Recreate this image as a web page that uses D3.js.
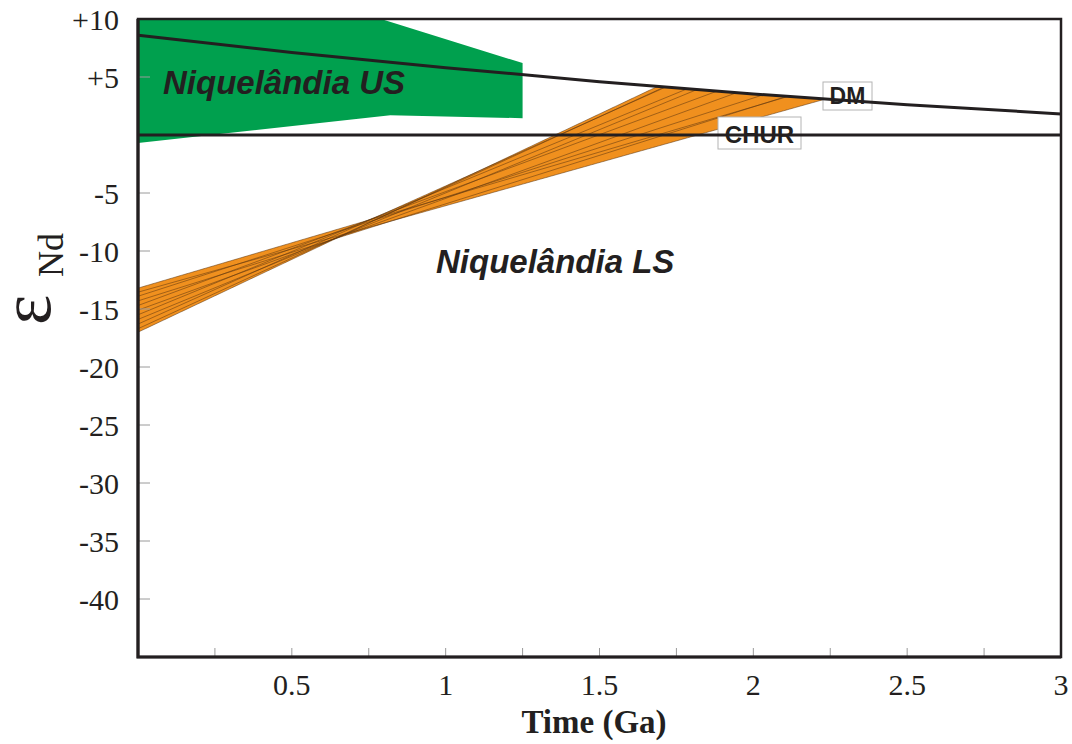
<!DOCTYPE html>
<html>
<head>
<meta charset="utf-8">
<script src="https://cdn.jsdelivr.net/npm/d3@7"></script>
<style>
  html, body { margin: 0; padding: 0; background: #fff; }
  svg { display: block; }
</style>
</head>
<body>
<svg id="chart" width="1072" height="744"></svg>
<script>
// Depleted-mantle evolution curve (epsilon Nd vs time)
const dmT   = [0, 0.5, 1, 1.5, 2, 2.5, 3];
const dmEps = [8.6, 7.12, 5.8, 4.6, 3.54, 2.6, 1.82];

// Chondritic uniform reservoir
const churT   = [0, 3];
const churEps = [0, 0];

// Niquelândia Upper Sequence field
const usT   = [0, 0.79, 1.25, 1.25, 0.82, 0];
const usEps = [10, 10, 6.2, 1.45, 1.7, -0.7];

// Niquelândia Lower Sequence samples: present-day eNd, TDM age and eNd at TDM
const lsEps0  = [-13.2, -13.55, -13.9, -14.3, -14.7, -15.1, -15.5, -15.9, -16.3, -16.7, -17.0];
const lsTdm   = [2.11, 2.233, 2.033, 2.108, 1.882, 1.946, 1.786, 1.817, 1.715, 1.711, 1.689];
const lsEpsDm = [3.30, 3.09, 3.47, 3.33, 3.78, 3.65, 3.99, 3.92, 4.13, 4.14, 4.19];

// Axis ticks
const xTickVals   = [0.25, 0.5, 0.75, 1, 1.25, 1.5, 1.75, 2, 2.25, 2.5, 2.75];
const xLabelVals  = [0.5, 1, 1.5, 2, 2.5, 3];
const xLabelText  = ["0.5", "1", "1.5", "2", "2.5", "3"];
const yTickVals   = [5, -5, -10, -15, -20, -25, -30, -35, -40];
const yLabelVals  = [10, 5, -5, -10, -15, -20, -25, -30, -35, -40];
const yLabelText  = ["+10", "+5", "-5", "-10", "-15", "-20", "-25", "-30", "-35", "-40"];

const ink = "#231f20";
const svg = d3.select("#chart");

const x = d3.scaleLinear().domain([0, 3]).range([138, 1061]);
const y = d3.scaleLinear().domain([-45, 10]).range([657, 19]);

const line = d3.line().x(d => x(d[0])).y(d => y(d[1]));

// Upper Sequence field
svg.append("path")
  .attr("d", line(usT.map((t, i) => [t, usEps[i]])) + "Z")
  .attr("fill", "#00a04e");

// Lower Sequence band: envelope of all sample evolution lines
const samples = lsEps0.map((s, i) => ({ s, t1: lsTdm[i], e1: lsEpsDm[i] }));
const evo = (L, t) => L.s + (L.e1 - L.s) * t / L.t1;
const tFirst = d3.min(lsTdm), tLast = d3.max(lsTdm);
const step = 0.005;

const topEdge = d3.range(0, tFirst, step).map(t => [t, d3.max(samples, L => evo(L, t))]);
const endPts = samples.map(L => [L.t1, L.e1]).sort((a, b) => a[0] - b[0]);
const bottomEdge = d3.range(tLast, 0, -step).map(t =>
  [t, d3.min(samples.filter(L => L.t1 >= t - 1e-9), L => evo(L, t))]);
bottomEdge.push([0, d3.min(samples, L => L.s)]);

svg.append("path")
  .attr("d", line(topEdge.concat(endPts, bottomEdge)) + "Z")
  .attr("fill", "#f0901e");

// individual sample lines
svg.append("g")
  .selectAll("path")
  .data(samples.map(L => [[0, L.s], [L.t1, L.e1]]))
  .join("path")
  .attr("d", line)
  .attr("fill", "none")
  .attr("stroke", "#5a3310")
  .attr("stroke-opacity", 0.75)
  .attr("stroke-width", 0.7);

// ticks (inside the frame)
svg.append("g")
  .selectAll("line")
  .data(xTickVals)
  .join("line")
  .attr("x1", d => x(d)).attr("x2", d => x(d))
  .attr("y1", y(-45)).attr("y2", y(-45) - 9)
  .attr("stroke", "#9a9a9a").attr("stroke-width", 1);

svg.append("g")
  .selectAll("line")
  .data(yTickVals)
  .join("line")
  .attr("x1", x(0)).attr("x2", x(0) + 12)
  .attr("y1", d => y(d)).attr("y2", d => y(d))
  .attr("stroke", "#9a9a9a").attr("stroke-width", 1);

// label boxes
svg.append("rect")
  .attr("x", 823).attr("y", 82).attr("width", 49).attr("height", 28)
  .attr("fill", "#fff").attr("stroke", "#b4b4b4").attr("stroke-width", 1);
svg.append("rect")
  .attr("x", 718).attr("y", 117).attr("width", 83).attr("height", 32)
  .attr("fill", "#fff").attr("stroke", "#b4b4b4").attr("stroke-width", 1);

// CHUR and DM reference lines
svg.append("path")
  .attr("d", line(churT.map((t, i) => [t, churEps[i]])))
  .attr("fill", "none").attr("stroke", ink).attr("stroke-width", 3);

svg.append("path")
  .attr("d", d3.line().x(d => x(d[0])).y(d => y(d[1])).curve(d3.curveMonotoneX)(dmT.map((t, i) => [t, dmEps[i]])))
  .attr("fill", "none").attr("stroke", ink).attr("stroke-width", 3);

// curve labels
svg.append("text")
  .attr("x", 847.5).attr("y", 104)
  .attr("text-anchor", "middle")
  .attr("font-family", "Liberation Sans, Arial, sans-serif")
  .attr("font-weight", "bold").attr("font-size", 23)
  .attr("fill", ink).text("DM");
svg.append("text")
  .attr("x", 759.5).attr("y", 143)
  .attr("text-anchor", "middle")
  .attr("font-family", "Liberation Sans, Arial, sans-serif")
  .attr("font-weight", "bold").attr("font-size", 24)
  .attr("fill", ink).text("CHUR");

// field labels
svg.append("text")
  .attr("x", 163).attr("y", 94)
  .attr("font-family", "Liberation Sans, Arial, sans-serif")
  .attr("font-weight", "bold").attr("font-style", "italic").attr("font-size", 33)
  .attr("fill", ink).text("Niquelândia US");
svg.append("text")
  .attr("x", 436).attr("y", 273)
  .attr("font-family", "Liberation Sans, Arial, sans-serif")
  .attr("font-weight", "bold").attr("font-style", "italic").attr("font-size", 33)
  .attr("fill", ink).text("Niquelândia LS");

// frame
svg.append("rect")
  .attr("x", x(0)).attr("y", y(10))
  .attr("width", x(3) - x(0)).attr("height", y(-45) - y(10))
  .attr("fill", "none").attr("stroke", ink).attr("stroke-width", 2.5);
svg.append("path")
  .attr("d", `M${x(0)},${y(10)}V${y(-45)}H${x(3)}`)
  .attr("fill", "none").attr("stroke", ink).attr("stroke-width", 3.2);

// tick labels
const serif = "Liberation Serif, Times New Roman, serif";
svg.append("g")
  .selectAll("text")
  .data(xLabelVals)
  .join("text")
  .attr("x", d => x(d)).attr("y", 695)
  .attr("text-anchor", "middle")
  .attr("font-family", serif).attr("font-size", 30)
  .attr("fill", ink)
  .text((d, i) => xLabelText[i]);

svg.append("g")
  .selectAll("text")
  .data(yLabelVals)
  .join("text")
  .attr("x", 119).attr("y", d => y(d) + 11)
  .attr("text-anchor", "end")
  .attr("font-family", serif).attr("font-size", 30)
  .attr("fill", ink)
  .text((d, i) => yLabelText[i]);

// axis titles
svg.append("text")
  .attr("x", 594).attr("y", 733)
  .attr("text-anchor", "middle")
  .attr("font-family", serif).attr("font-weight", "bold").attr("font-size", 33)
  .attr("fill", ink).text("Time (Ga)");

svg.append("text")
  .attr("transform", "translate(50,325) rotate(-90)")
  .attr("font-family", serif).attr("font-size", 72)
  .attr("fill", ink).text("ε");
svg.append("text")
  .attr("transform", "translate(63,277) rotate(-90)")
  .attr("font-family", serif).attr("font-size", 36)
  .attr("fill", ink).text("Nd");
</script>
</body>
</html>
